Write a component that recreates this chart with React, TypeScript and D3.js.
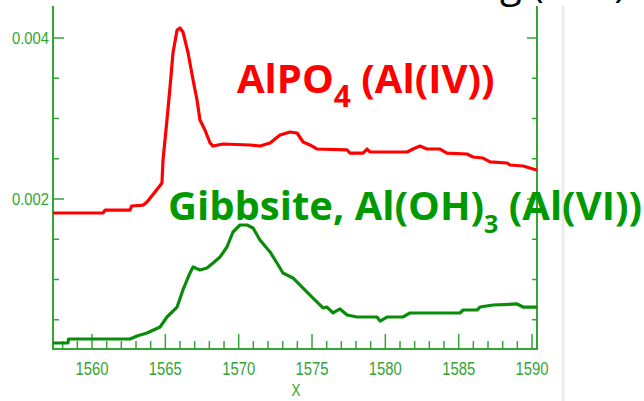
import React from "react";
import * as d3 from "d3";

const W = 644;
const H = 401;

// AlPO4 (Al(IV)) spectrum: [energy, absorbance]
const alpo4X = [1557.34, 1560.75, 1560.9, 1562.6, 1562.7, 1563.5, 1563.75, 1564.4, 1564.77, 1564.84, 1565.11, 1565.32, 1565.52, 1565.8, 1566.0, 1566.2, 1566.55, 1566.89, 1567.16, 1567.36, 1567.7, 1568.05, 1568.25, 1568.93, 1570.77, 1571.45, 1572.14, 1572.82, 1573.5, 1573.98, 1574.39, 1574.86, 1575.34, 1577.39, 1577.59, 1578.48, 1578.75, 1578.95, 1581.48, 1581.89, 1582.36, 1582.84, 1583.73, 1584.2, 1585.57, 1585.98, 1586.66, 1587.14, 1588.3, 1588.5, 1589.39, 1590.07, 1590.34];
const alpo4Y = [0.001826, 0.001826, 0.001863, 0.001863, 0.001913, 0.001925, 0.001963, 0.002112, 0.002199, 0.002484, 0.002981, 0.003391, 0.003814, 0.004099, 0.004124, 0.004075, 0.003814, 0.003478, 0.00323, 0.002981, 0.002857, 0.002696, 0.002658, 0.002683, 0.002671, 0.002658, 0.002696, 0.002795, 0.002832, 0.00282, 0.002708, 0.002671, 0.002621, 0.002609, 0.002571, 0.002571, 0.002621, 0.002584, 0.002584, 0.002621, 0.002658, 0.002621, 0.002621, 0.002571, 0.002559, 0.002522, 0.002509, 0.00246, 0.002447, 0.002422, 0.00241, 0.002373, 0.00236];

// Gibbsite Al(OH)3 (Al(VI)) spectrum
const gibbX = [1557.34, 1558.36, 1558.4, 1562.59, 1563.07, 1563.75, 1564.64, 1565.11, 1565.8, 1566.2, 1566.68, 1566.89, 1567.36, 1567.84, 1568.25, 1568.73, 1569.2, 1569.61, 1570.09, 1570.57, 1570.98, 1571.45, 1572.14, 1572.61, 1573.02, 1573.7, 1574.39, 1575.07, 1575.75, 1576.02, 1576.43, 1576.91, 1577.39, 1578.07, 1579.43, 1579.64, 1580.11, 1581.2, 1581.68, 1585.09, 1585.3, 1586.25, 1586.45, 1587.34, 1588.98, 1589.39, 1590.34];
const gibbY = [0.000211, 0.000211, 0.000261, 0.000261, 0.000298, 0.000335, 0.00041, 0.000534, 0.000658, 0.00087, 0.001081, 0.001155, 0.001118, 0.001143, 0.001205, 0.00128, 0.001404, 0.00159, 0.001677, 0.001677, 0.00164, 0.001491, 0.001342, 0.001205, 0.001081, 0.001019, 0.000894, 0.00077, 0.000646, 0.000658, 0.000584, 0.000634, 0.000559, 0.000534, 0.000534, 0.000484, 0.000534, 0.000534, 0.000584, 0.000584, 0.000621, 0.000621, 0.000658, 0.000683, 0.000696, 0.000658, 0.000658];

const xTickLabels = [1560, 1565, 1570, 1575, 1580, 1585, 1590];
const yTickLabels = [0.002, 0.004];

const AXIS = "#34a434";
const RED = "#ff0000";
const GREEN_LINE = "#0a8c0a";
const GREEN_TEXT = "#009900";

export default function App() {
  const x = d3.scaleLinear().domain([1557.34, 1590.34]).range([53, 537]);
  const y = d3.scaleLinear().domain([0.0001366, 0.0043975]).range([349, 6]);

  const line = d3
    .line<[number, number]>()
    .x((d) => x(d[0]))
    .y((d) => y(d[1]))
    .curve(d3.curveLinear);

  const redPts = alpo4X.map((v, i) => [v, alpo4Y[i]] as [number, number]);
  const greenPts = gibbX.map((v, i) => [v, gibbY[i]] as [number, number]);

  const xMinor = d3.range(1558, 1591, 1).filter((v) => v % 5 !== 0);
  const yMinor = d3.range(1, 9).map((k) => k * 0.0005).filter((v) => !yTickLabels.some((t) => Math.abs(t - v) < 1e-9));

  return (
    <svg width={W} height={H} style={{ position: "absolute", left: 0, top: 0, background: "#fff" }}>
      <rect x={0} y={0} width={W} height={H} fill="#fff" />
      {/* cut-off title */}
      <text x={500} y={-3} fontFamily="'Open Sans', sans-serif" fontSize={40} fill="#000">
        g (Al K)
      </text>
      {/* gray separator */}
      <line x1={563} x2={563} y1={6} y2={H} stroke="#ececec" strokeWidth={3} />

      {/* axes frame */}
      <line x1={53} x2={53} y1={6} y2={350} stroke={AXIS} strokeWidth={2} />
      <line x1={537} x2={537} y1={6} y2={350} stroke={AXIS} strokeWidth={2} />
      <line x1={52} x2={538} y1={349} y2={349} stroke={AXIS} strokeWidth={2} />

      {/* x ticks */}
      {xTickLabels.map((v) => (
        <g key={"xt" + v}>
          <line x1={x(v)} x2={x(v)} y1={349} y2={334} stroke={AXIS} strokeWidth={1.5} />
          <text
            x={x(v)}
            y={375}
            textAnchor="middle"
            fontFamily="'Liberation Sans', Arial, sans-serif"
            fontSize={18}
            fill={AXIS}
            textLength={33}
            lengthAdjust="spacingAndGlyphs"
          >
            {v}
          </text>
        </g>
      ))}
      {xMinor.map((v) => (
        <line key={"xm" + v} x1={x(v)} x2={x(v)} y1={349} y2={341} stroke={AXIS} strokeWidth={1.5} />
      ))}
      <text x={296} y={396} textAnchor="middle" fontFamily="'Liberation Sans', Arial, sans-serif" fontSize={17} fill={AXIS} textLength={9} lengthAdjust="spacingAndGlyphs">
        X
      </text>

      {/* y ticks */}
      {yTickLabels.map((v) => (
        <g key={"yt" + v}>
          <line x1={53} x2={64} y1={y(v)} y2={y(v)} stroke={AXIS} strokeWidth={1.5} />
          <line x1={537} x2={527} y1={y(v)} y2={y(v)} stroke={AXIS} strokeWidth={1.5} />
          <text
            x={49}
            y={y(v) + 6}
            textAnchor="end"
            fontFamily="'Liberation Sans', Arial, sans-serif"
            fontSize={16}
            fill={AXIS}
            textLength={37}
            lengthAdjust="spacingAndGlyphs"
          >
            {v.toFixed(3)}
          </text>
        </g>
      ))}
      {yMinor.map((v) => (
        <g key={"ym" + v}>
          <line x1={53} x2={59} y1={y(v)} y2={y(v)} stroke={AXIS} strokeWidth={1.5} />
          <line x1={537} x2={532} y1={y(v)} y2={y(v)} stroke={AXIS} strokeWidth={1.5} />
        </g>
      ))}

      {/* data */}
      <path d={line(redPts) || ""} fill="none" stroke={RED} strokeWidth={3.2} strokeLinejoin="round" />
      <path d={line(greenPts) || ""} fill="none" stroke={GREEN_LINE} strokeWidth={3.2} strokeLinejoin="round" />

      {/* annotations */}
      <text x={237} y={93} fontFamily="'Open Sans', sans-serif" fontWeight={700} fontSize={40} fill={RED}>
        AlPO
        <tspan fontSize={30} dy={14}>4</tspan>
        <tspan dy={-14}> (Al(IV))</tspan>
      </text>
      <text x={168} y={220} fontFamily="'Open Sans', sans-serif" fontWeight={700} fontSize={40} fill={GREEN_TEXT}>
        Gibbsite, Al(OH)
        <tspan fontSize={25} dy={13}>3</tspan>
        <tspan dy={-13}> (Al(VI))</tspan>
      </text>
    </svg>
  );
}
